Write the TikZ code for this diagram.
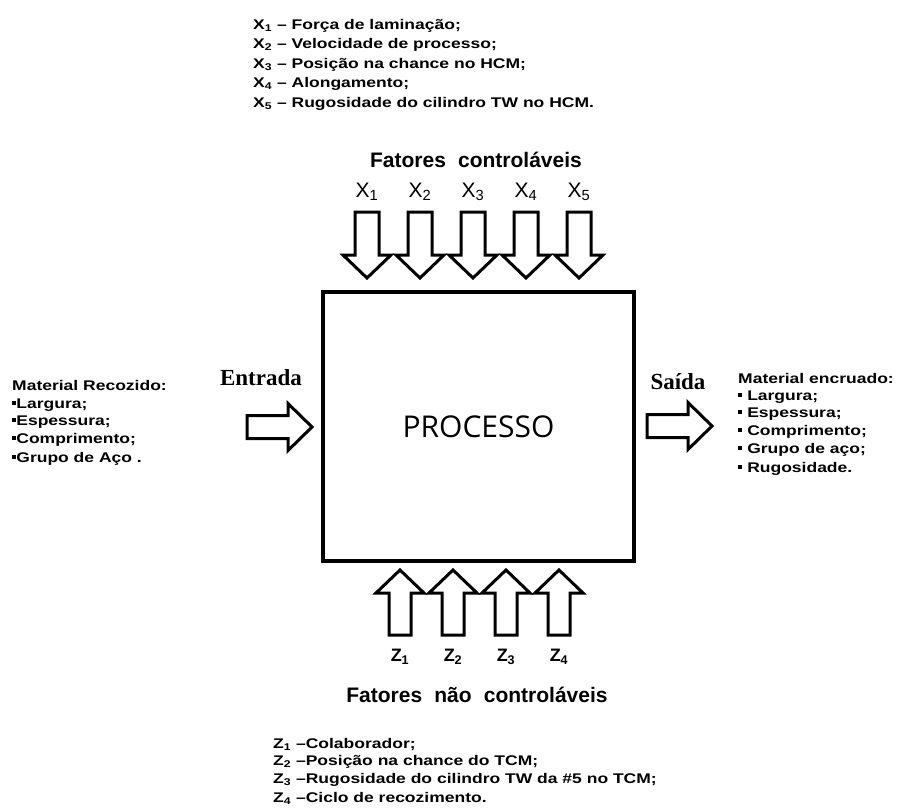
\documentclass[tikz,border=0pt]{standalone}
\usepackage{fontspec}
\setmainfont{Liberation Sans}
\newfontfamily\listfont{Liberation Sans}[FakeStretch=1.25]
\newfontfamily\procfont{Open Sans}
\newfontfamily\serifb{Liberation Serif}
\newcommand\sqb{\rule[0.2em]{0.3em}{0.3em}}
\tikzset{
  blk/.style={draw=black, line width=3pt, fill=white, line join=miter},
  pics/downarr/.style={code={\draw[blk] (-12,0) -- (12,0) -- (12,43) -- (24,43) -- (0,66) -- (-24,43) -- (-12,43) -- cycle;}},
  pics/uparr/.style={code={\draw[blk] (0,0) -- (24,23) -- (11,23) -- (11,65) -- (-11,65) -- (-11,23) -- (-24,23) -- cycle;}},
  pics/rightarr/.style={code={\draw[blk] (0,-11.5) -- (41,-11.5) -- (41,-23.5) -- (65,0) -- (41,23.5) -- (41,11.5) -- (0,11.5) -- cycle;}},
  listtxt/.style={anchor=base west, inner sep=0pt, font=\listfont\bfseries\fontsize{14}{16}\selectfont},
  headtxt/.style={inner sep=0pt, font=\bfseries\fontsize{21}{24}\selectfont},
  xlab/.style={inner sep=0pt, font=\fontsize{21}{24}\selectfont},
  zlab/.style={inner sep=0pt, font=\bfseries\fontsize{18}{20}\selectfont},
  iotxt/.style={inner sep=0pt, font=\serifb\bfseries\fontsize{23}{26}\selectfont},
}
\begin{document}
\begin{tikzpicture}[x=1pt,y=-1pt]
\useasboundingbox (0,0) rectangle (906,807);
% top list
\node[listtxt] (t1) at (253,29) {X\textsubscript{1} – Força de laminação;};
\node[listtxt] (t2) at (253,48.5) {X\textsubscript{2} – Velocidade de processo;};
\node[listtxt] (t3) at (253,68) {X\textsubscript{3} – Posição na chance no HCM;};
\node[listtxt] (t4) at (253,87.5) {X\textsubscript{4} – Alongamento;};
\node[listtxt] (t5) at (253,107) {X\textsubscript{5} – Rugosidade do cilindro TW no HCM.};
% header
\node[headtxt] (fc) at (476,160) {Fatores\hspace{0.3em} controláveis};
\foreach \i/\xx in {1/367,2/420,3/473,4/526,5/579}{
  \node[xlab] (x\i) at (\xx,192) {X\textsubscript{\i}};
  \pic at (\xx,212) {downarr};
}
% process box
\node[draw, line width=4.5pt, minimum width=311pt, minimum height=269pt, inner sep=0pt,
      font=\procfont\fontsize{30}{33}\selectfont] (proc) at (478.5,426.5) {PROCESSO};
% input / output
\node[iotxt] (ent) at (261,378) {Entrada};
\pic at (247,427) {rightarr};
\node[iotxt] (sai) at (678,382) {Saída};
\pic at (647,426) {rightarr};
% left list
\node[listtxt] (l0) at (12,390) {Material Recozido:};
\node[listtxt] (l1) at (12,408) {\sqb Largura;};
\node[listtxt] (l2) at (12,425) {\sqb Espessura;};
\node[listtxt] (l3) at (12,443) {\sqb Comprimento;};
\node[listtxt] (l4) at (12,462) {\sqb Grupo de Aço .};
% right list
\node[listtxt] (r0) at (738,383) {Material encruado:};
\node[listtxt] (r1) at (738,400) {\sqb\ Largura;};
\node[listtxt] (r2) at (738,417) {\sqb\ Espessura;};
\node[listtxt] (r3) at (738,435) {\sqb\ Comprimento;};
\node[listtxt] (r4) at (738,453) {\sqb\ Grupo de aço;};
\node[listtxt] (r5) at (738,472) {\sqb\ Rugosidade.};
% bottom arrows
\foreach \i/\xx in {1/400,2/453,3/506,4/559}{
  \pic at (\xx,570) {uparr};
  \node[zlab] (z\i) at (\xx,657) {Z\textsubscript{\i}};
}
\node[headtxt] (fn) at (477,695) {Fatores\hspace{0.3em} não\hspace{0.3em} controláveis};
% bottom list
\node[listtxt] (b1) at (273,748) {Z\textsubscript{1} –Colaborador;};
\node[listtxt] (b2) at (273,765) {Z\textsubscript{2} –Posição na chance do TCM;};
\node[listtxt] (b3) at (273,783) {Z\textsubscript{3} –Rugosidade do cilindro TW da \#5 no TCM;};
\node[listtxt] (b4) at (273,802) {Z\textsubscript{4} –Ciclo de recozimento.};
\end{tikzpicture}
\end{document}
